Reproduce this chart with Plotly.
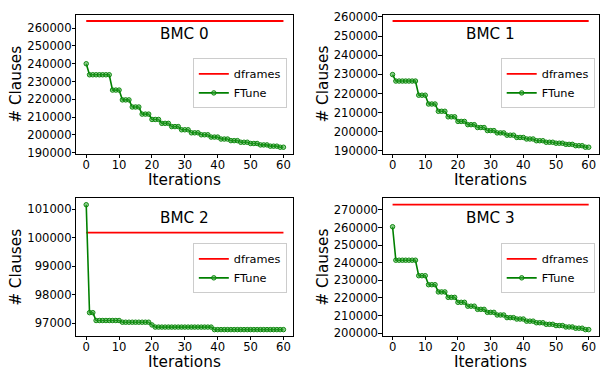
import plotly.graph_objects as go
from plotly.subplots import make_subplots

iterations = list(range(61))

ftune_bmc0 = [240000,
              233800, 233800, 233800, 233800, 233800, 233800, 233800,
              225200, 225200, 225200, 219700, 219700, 219700, 215700, 215700, 215700,
              211700, 211700, 211700, 208700, 208700, 208700, 206500, 206500, 206500,
              204700, 204700, 204700, 202900, 202900, 202900, 201200, 201200, 201200,
              200100, 200100, 200100, 198800, 198800, 198800, 197700, 197700, 197700,
              196800, 196800, 196800, 195900, 195900, 195900, 195200, 195200, 195200,
              194400, 194400, 194400, 193700, 193700, 193700, 193100, 193100]

ftune_bmc1 = [229900,
              226500, 226500, 226500, 226500, 226500, 226500, 226500,
              219100, 219100, 219100, 214500, 214500, 214500, 210700, 210700, 210700,
              207800, 207800, 207800, 205400, 205400, 205400, 203700, 203700, 203700,
              202200, 202200, 202200, 200600, 200600, 200600, 199400, 199400, 199400,
              198200, 198200, 198200, 197000, 197000, 197000, 196200, 196200, 196200,
              195300, 195300, 195300, 194500, 194500, 194500, 194000, 194000, 194000,
              193400, 193400, 193400, 192700, 192700, 192700, 191900, 191900]

ftune_bmc2 = [101150,
              97370, 97370,
              97095, 97095, 97095, 97095, 97095, 97095, 97095, 97095,
              97035, 97035, 97035, 97035, 97035, 97035, 97035, 97035, 97035,
              96940,
              96864, 96864, 96864, 96864, 96864, 96864, 96864, 96864, 96864,
              96864, 96864, 96864, 96864, 96864, 96864, 96864, 96864, 96864,
              96776, 96776, 96776, 96776, 96776, 96776, 96776, 96776, 96776, 96776, 96776,
              96776, 96776, 96776, 96776, 96776, 96776, 96776, 96776, 96776, 96776, 96776]

ftune_bmc3 = [260400,
              241400, 241400, 241400, 241400, 241400, 241400, 241400,
              232600, 232600, 232600, 227500, 227500, 227500, 223400, 223400, 223400,
              220300, 220300, 220300, 217500, 217500, 217500, 215300, 215300, 215300,
              213500, 213500, 213500, 211800, 211800, 211800, 210300, 210300, 210300,
              208800, 208800, 208800, 208000, 208000, 208000, 206800, 206800, 206800,
              205900, 205900, 205900, 205000, 205000, 205000, 204300, 204300, 204300,
              203500, 203500, 203500, 202800, 202800, 202800, 202000, 202000]

dframes = [264000, 257900, 100170, 272900]
titles = ["BMC 0", "BMC 1", "BMC 2", "BMC 3"]
y_ticks = [
    [190000, 200000, 210000, 220000, 230000, 240000, 250000, 260000],
    [190000, 200000, 210000, 220000, 230000, 240000, 250000, 260000],
    [97000, 98000, 99000, 100000, 101000],
    [200000, 210000, 220000, 230000, 240000, 250000, 260000, 270000],
]
x_ticks = [0, 10, 20, 30, 40, 50, 60]
ftune = [ftune_bmc0, ftune_bmc1, ftune_bmc2, ftune_bmc3]

W, H = 600, 377
FONT = "DejaVu Sans"

fig = make_subplots(rows=2, cols=2)

# pixel layout (left, right, top, bottom)
boxes = [(76.5, 293.8, 10.0, 153.0), (383.4, 599.5, 10.0, 153.0),
         (76.5, 293.8, 199.3, 340.8), (383.4, 599.5, 199.3, 340.8)]
legend_pos = [(287.3, 55.0), (595.7, 55.0), (287.3, 245.5), (595.7, 245.5)]
iter_shift = [26, 26, 26, 26]

legend_names = ["legend", "legend2", "legend3", "legend4"]

for i in range(4):
    r, c = i // 2 + 1, i % 2 + 1
    lg = legend_names[i]
    fig.add_trace(go.Scatter(
        x=iterations, y=[dframes[i]] * len(iterations), mode="lines",
        line=dict(color="#ff0000", width=1.8), name="dframes", legend=lg,
    ), row=r, col=c)
    fig.add_trace(go.Scatter(
        x=iterations, y=ftune[i], mode="lines+markers",
        line=dict(color="#008000", width=1.6),
        marker=dict(symbol="circle", size=4.5, color="rgba(60,170,60,0.55)",
                    line=dict(color="#008000", width=0.9)),
        name="FTune", legend=lg,
    ), row=r, col=c)

    vals = ftune[i] + [dframes[i]]
    lo, hi = min(vals), max(vals)
    pad = (hi - lo) * 0.05
    l, rr, t, b = boxes[i]
    axn = "" if i == 0 else str(i + 1)
    axis_common = dict(showline=True, linecolor="black", linewidth=1, mirror=True,
                       ticks="outside", ticklen=3.5, tickwidth=1, tickcolor="black",
                       showgrid=False, zeroline=False,
                       tickfont=dict(family=FONT, size=11.6, color="black"))
    fig.layout["xaxis" + axn].update(domain=[l / W, rr / W], range=[-3, 63],
                                     tickvals=x_ticks, ticklabelstandoff=-3, **axis_common)
    fig.layout["yaxis" + axn].update(domain=[1 - b / H, 1 - t / H], range=[lo - pad, hi + pad],
                                     tickvals=y_ticks[i], tickformat="d", ticklabelstandoff=-2,
                                     **axis_common)

    xref = "x" + axn
    yref = "y" + axn
    fig.add_annotation(text=titles[i], xref=xref + " domain", yref=yref + " domain",
                       x=0.5, y=0.86, xanchor="center", yanchor="middle", showarrow=False,
                       font=dict(family=FONT, size=15.2, color="black"))
    fig.add_annotation(text="Iterations", xref=xref + " domain", yref=yref + " domain",
                       x=0.5, y=0, yshift=-iter_shift[i], xanchor="center", yanchor="middle",
                       showarrow=False, font=dict(family=FONT, size=15.3, color="black"))
    fig.add_annotation(text="# Clauses", xref="paper", yref=yref + " domain",
                       x=(15.7 if c == 1 else 324.0) / W, y=0.5, textangle=-90,
                       xanchor="center", yanchor="middle", showarrow=False,
                       font=dict(family=FONT, size=15.3, color="black"))

    lx, ly = legend_pos[i]
    fig.layout[lg] = dict(x=lx / W, y=1 - ly / H, xanchor="right", yanchor="top",
                          bgcolor="rgba(255,255,255,0.8)", bordercolor="#cccccc",
                          borderwidth=1, font=dict(family=FONT, size=11.3, color="black"),
                          tracegroupgap=0)

fig.update_layout(width=W, height=H, margin=dict(l=0, r=0, t=0, b=0),
                  paper_bgcolor="white", plot_bgcolor="white", showlegend=True,
                  font=dict(family=FONT, color="black"))

fig.write_html("out.html", config={"displayModeBar": False},
               post_script="document.body.style.margin='0px';")
